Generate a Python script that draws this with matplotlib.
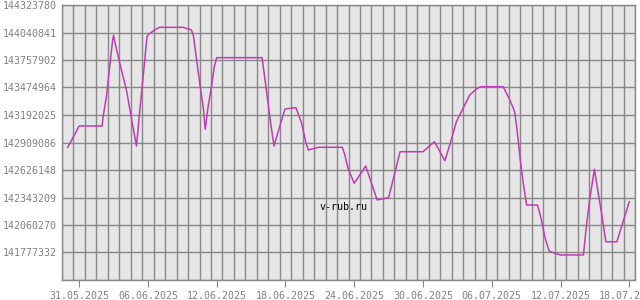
import matplotlib
matplotlib.use("Agg")
import matplotlib.pyplot as plt
import matplotlib.dates as mdates
import pandas as pd

# данные
times = [
    "2025-05-30 00:00", "2025-05-31 00:00", "2025-06-02 00:00", "2025-06-02 02:00",
    "2025-06-02 09:00", "2025-06-02 22:00", "2025-06-03 00:00", "2025-06-03 02:00",
    "2025-06-03 13:00", "2025-06-04 03:00", "2025-06-04 14:00", "2025-06-05 00:00",
    "2025-06-05 07:00", "2025-06-05 14:00", "2025-06-05 22:00", "2025-06-06 02:00",
    "2025-06-06 14:00", "2025-06-07 00:00", "2025-06-09 02:00", "2025-06-09 19:00",
    "2025-06-09 23:00", "2025-06-10 06:00", "2025-06-10 13:00", "2025-06-10 20:00",
    "2025-06-11 00:00", "2025-06-11 06:00", "2025-06-11 13:00", "2025-06-11 19:00",
    "2025-06-12 00:00", "2025-06-15 23:00", "2025-06-16 08:00", "2025-06-16 17:00",
    "2025-06-17 00:00", "2025-06-17 12:00", "2025-06-17 23:00", "2025-06-18 22:00",
    "2025-06-19 10:00", "2025-06-19 19:00", "2025-06-20 00:00", "2025-06-20 21:00",
    "2025-06-22 23:00", "2025-06-23 04:00", "2025-06-23 11:00", "2025-06-24 00:00",
    "2025-06-25 00:00", "2025-06-26 00:00", "2025-06-27 00:00", "2025-06-28 00:00",
    "2025-06-30 00:00", "2025-07-01 00:00", "2025-07-01 22:00", "2025-07-02 08:00",
    "2025-07-02 22:00", "2025-07-03 12:00", "2025-07-04 02:00", "2025-07-04 16:00",
    "2025-07-05 00:00", "2025-07-07 00:00", "2025-07-07 14:00", "2025-07-08 00:00",
    "2025-07-08 05:00", "2025-07-08 11:00", "2025-07-08 18:00", "2025-07-09 01:00",
    "2025-07-10 00:00", "2025-07-10 08:00", "2025-07-10 15:00", "2025-07-11 00:00",
    "2025-07-11 12:00", "2025-07-12 00:00", "2025-07-14 00:00", "2025-07-14 06:00",
    "2025-07-14 13:00", "2025-07-14 23:00", "2025-07-15 07:00", "2025-07-15 14:00",
    "2025-07-15 23:00", "2025-07-16 22:00", "2025-07-18 00:00",
]
values = [
    142860000, 143079000, 143079000, 143175000,
    143380000, 143960000, 144012000, 143960000,
    143724000, 143449000, 143141000, 142873000,
    143243000, 143586000, 143998000, 144025000,
    144067000, 144094000, 144094000, 144067000,
    144015000, 143758000, 143501000, 143261000,
    143045000, 143277000, 143483000, 143689000,
    143782000, 143782000, 143449000, 143107000,
    142873000, 143075000, 143254000, 143267000,
    143107000, 142901000, 142832000, 142860000,
    142860000, 142788000, 142644000, 142489000,
    142667000, 142318000, 142341000, 142814000,
    142814000, 142917000, 142722000, 142883000,
    143123000, 143261000, 143398000, 143460000,
    143483000, 143483000, 143346000, 143226000,
    143038000, 142763000, 142489000, 142266000,
    142266000, 142112000, 141940000, 141793000,
    141769000, 141752000, 141752000, 142043000,
    142318000, 142633000, 142386000, 142181000,
    141888000, 141888000, 142300000,
]

y_ticks = [141494393, 141777332, 142060270, 142343209, 142626148, 142909086,
           143192025, 143474964, 143757902, 144040841, 144323780]
y_labels = [""] + [str(v) for v in y_ticks[1:]]
x_ticks = ["2025-05-31", "2025-06-06", "2025-06-12", "2025-06-18",
           "2025-06-24", "2025-06-30", "2025-07-06", "2025-07-12", "2025-07-18"]

t = pd.to_datetime(times)
grid_col = "#888888"
txt_col = "#808080"
mono = "DejaVu Sans Mono"

fig = plt.figure(figsize=(6.4, 3.0), dpi=100)
ax = fig.add_axes([62 / 640, 1 - 280 / 300, 573 / 640, 275 / 300])
ax.set_facecolor("#e6e6e6")

ax.plot(t, values, color="#c03cb4", lw=1.1)

ax.set_ylim(y_ticks[0], y_ticks[-1])
ax.set_xlim(pd.Timestamp("2025-05-29 12:00"), pd.Timestamp("2025-07-18 12:00"))

ax.set_yticks(y_ticks)
ax.set_yticklabels(y_labels, fontfamily=mono, fontsize=7.2, color=txt_col)
ax.set_xticks(pd.to_datetime(x_ticks))
ax.set_xticklabels([pd.Timestamp(d).strftime("%d.%m.%Y") for d in x_ticks],
                   fontfamily=mono, fontsize=7.2, color=txt_col)
# сетка по полудню каждого дня
noon = pd.date_range("2025-05-29 12:00", "2025-07-18 12:00", freq="D")
ax.set_xticks(noon, minor=True)

ax.tick_params(axis="y", length=0, pad=4)
ax.tick_params(axis="x", which="major", length=5, color=grid_col, pad=3)
ax.tick_params(axis="x", which="minor", length=0)
ax.grid(True, axis="y", color=grid_col, lw=1.0)
ax.grid(True, axis="x", which="minor", color=grid_col, lw=1.0)
ax.grid(False, axis="x", which="major")
ax.set_axisbelow(True)
for s in ax.spines.values():
    s.set_color(grid_col)
    s.set_linewidth(1.0)

ax.text(0.492, 0.265, "v-rub.ru", transform=ax.transAxes, ha="center", va="center",
        fontfamily=mono, fontsize=7.2, color="black")

fig.savefig("out.png", dpi=100)
